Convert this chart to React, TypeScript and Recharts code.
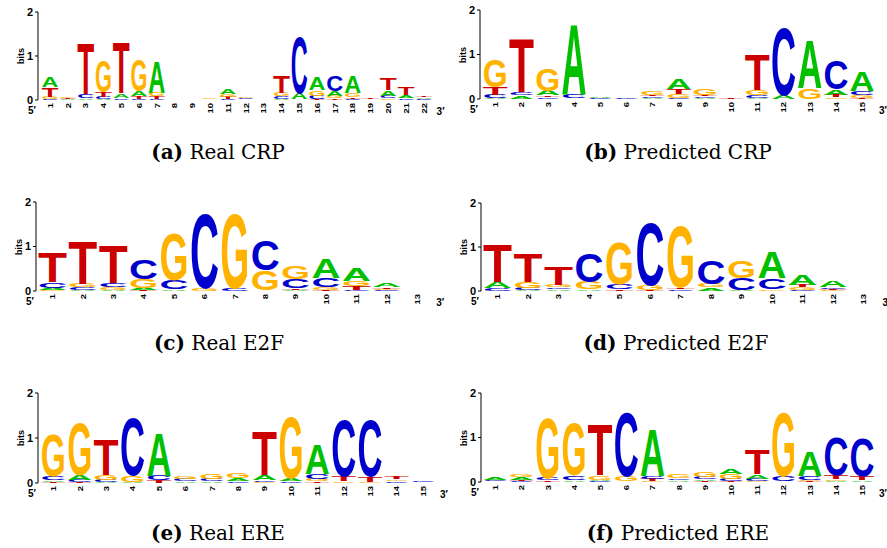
import { Bar, BarChart, XAxis, YAxis } from "recharts";

const crpRealA = [0.25, 0.02, 0.04, 0.02, 0.1, 0.12, 0.71, 0, 0, 0, 0.11, 0.01, 0, 0.02, 0.15, 0.3, 0.11, 0.39, 0.01, 0.13, 0.06, 0.03];
const crpRealC = [0.02, 0.01, 0.09, 0.05, 0.04, 0.03, 0.03, 0, 0, 0.01, 0.02, 0.02, 0, 0.06, 1.3, 0.08, 0.35, 0.03, 0.01, 0.05, 0.04, 0.02];
const crpRealG = [0.05, 0.03, 0.01, 0.71, 0.01, 0.72, 0.08, 0, 0, 0.03, 0.07, 0.03, 0, 0.09, 0.01, 0.13, 0.06, 0.08, 0.01, 0.04, 0.01, 0.01];
const crpRealT = [0.22, 0.02, 1.17, 0.12, 1.17, 0.05, 0.05, 0, 0, 0.01, 0.05, 0.01, 0, 0.4, 0.01, 0.02, 0.04, 0.04, 0.02, 0.27, 0.19, 0.03];

const crpPredA = [0.02, 0.07, 0.11, 1.6, 0.03, 0, 0.02, 0.23, 0.03, 0, 0.02, 0.1, 1.09, 0.13, 0.44];
const crpPredC = [0.08, 0.07, 0.04, 0.08, 0.02, 0.02, 0.04, 0.03, 0.03, 0, 0.06, 1.56, 0.01, 0.64, 0.08];
const crpPredG = [0.62, 0.01, 0.5, 0.01, 0, 0, 0.09, 0.09, 0.15, 0.01, 0.13, 0, 0.23, 0.04, 0.06];
const crpPredT = [0.17, 1.22, 0.04, 0.01, 0, 0, 0.04, 0.11, 0.04, 0.02, 0.8, 0, 0, 0.05, 0.03];

const e2fRealA = [0.05, 0.03, 0.02, 0.05, 0.03, 0.01, 0, 0.01, 0.03, 0.43, 0.29, 0.09, 0];
const e2fRealC = [0.13, 0.05, 0.09, 0.45, 0.2, 1.71, 0.05, 0.68, 0.21, 0.21, 0.03, 0.02, 0];
const e2fRealG = [0.02, 0.08, 0.06, 0.2, 1.07, 0.05, 1.7, 0.45, 0.3, 0.06, 0.11, 0.03, 0];
const e2fRealT = [0.69, 0.99, 0.85, 0.02, 0.01, 0, 0.01, 0.01, 0.03, 0.02, 0.09, 0.03, 0];

const e2fPredA = [0.15, 0.02, 0.04, 0.03, 0.01, 0, 0.01, 0.07, 0.02, 0.6, 0.24, 0.15, 0];
const e2fPredC = [0.05, 0.05, 0.04, 0.65, 0.13, 1.44, 0.04, 0.55, 0.27, 0.25, 0.02, 0.04, 0];
const e2fPredG = [0.01, 0.14, 0.05, 0.17, 0.96, 0.11, 1.43, 0.09, 0.39, 0.03, 0.06, 0.02, 0];
const e2fPredT = [0.86, 0.65, 0.41, 0.01, 0.03, 0.02, 0.04, 0.01, 0.01, 0.01, 0.06, 0.02, 0];

const ereRealA = [0.04, 0.11, 0.02, 0.02, 0.98, 0.03, 0.04, 0.06, 0.12, 0.06, 0.69, 0.01, 0.01, 0.01, 0.01];
const ereRealC = [0.08, 0.05, 0.05, 1.29, 0.1, 0.05, 0.05, 0.04, 0.04, 0.04, 0.1, 1.26, 1.28, 0.03, 0.03];
const ereRealG = [0.94, 1.17, 0.1, 0.15, 0.01, 0.06, 0.11, 0.1, 0.02, 1.38, 0.05, 0.04, 0.02, 0.04, 0.01];
const ereRealT = [0.03, 0.02, 0.8, 0, 0.05, 0.01, 0.01, 0.01, 0.99, 0.01, 0.04, 0.11, 0.12, 0.06, 0.01];

const erePredA = [0.05, 0.06, 0.01, 0.04, 0.03, 0.01, 1.07, 0.03, 0.04, 0.13, 0.1, 0.01, 0.56, 0.02, 0.04];
const erePredC = [0.03, 0.02, 0.05, 0.1, 0.02, 1.47, 0.07, 0.04, 0.05, 0.05, 0.05, 0.11, 0.09, 0.86, 0.86];
const erePredG = [0.01, 0.07, 1.37, 1.18, 0.1, 0.11, 0.02, 0.08, 0.13, 0.11, 0.02, 1.47, 0.03, 0.04, 0.01];
const erePredT = [0.01, 0.03, 0.04, 0.01, 1.15, 0.01, 0.05, 0.01, 0.02, 0.02, 0.57, 0.01, 0.02, 0.09, 0.09];

const LETTERS = ["A", "C", "G", "T"];
const COLORS: Record<string, string> = { A: "#00c000", C: "#0000cc", G: "#ffb300", T: "#cc0000" };
const SANS = "'Liberation Sans', Arial, Helvetica, sans-serif";

function buildRows(cols: number[][]) {
  const rows: any[] = [];
  for (let i = 0; i < cols[0].length; i++) {
    // smallest letter at the bottom of the stack
    const stack = LETTERS.map((l, j) => ({ l, v: cols[j][i] })).sort((a, b) => a.v - b.v);
    const row: any = { pos: String(i + 1) };
    stack.forEach((s, r) => {
      row[`v${r}`] = s.v;
      row[`k${r}`] = s.l;
    });
    rows.push(row);
  }
  return rows;
}

function Glyph(props: any) {
  const { x, y, width, height, payload, rank } = props;
  if (!height || height < 0.4 || !width) return null;
  const letter = payload[`k${rank}`];
  const cap = 71.6; // cap height of the bold sans at 100px
  return (
    <text
      x={0}
      y={0}
      fontFamily={SANS}
      fontWeight={700}
      fontSize={100}
      fill={COLORS[letter]}
      textLength={width}
      lengthAdjust="spacingAndGlyphs"
      transform={`translate(${x}, ${y + height}) scale(1, ${height / cap})`}
    >
      {letter}
    </text>
  );
}

function PosTick({ x, y, payload }: any) {
  return (
    <text
      x={0}
      y={0}
      transform={`translate(${x + 3}, ${y}) rotate(-90) scale(1, 0.8)`}
      textAnchor="end"
      fontSize={9.5}
      fontWeight={700}
      fontFamily={SANS}
      fill="#000"
    >
      {payload.value}
    </text>
  );
}

const panels = [
  { cols: [crpRealA, crpRealC, crpRealG, crpRealT], axisX: 38, yTop: 12, y0: 100, gap: 3, step: 17.8, tag: "(a)", name: "Real CRP", cx: 218, cy: 152 },
  { cols: [crpPredA, crpPredC, crpPredG, crpPredT], axisX: 480, yTop: 10, y0: 99, gap: 2, step: 26.2, tag: "(b)", name: "Predicted CRP", cx: 678, cy: 152 },
  { cols: [e2fRealA, e2fRealC, e2fRealG, e2fRealT], axisX: 36, yTop: 202, y0: 291, gap: 1, step: 30.4, tag: "(c)", name: "Real E2F", cx: 219, cy: 343 },
  { cols: [e2fPredA, e2fPredC, e2fPredG, e2fPredT], axisX: 481, yTop: 203, y0: 291, gap: 1, step: 30.5, tag: "(d)", name: "Predicted E2F", cx: 676, cy: 343 },
  { cols: [ereRealA, ereRealC, ereRealG, ereRealT], axisX: 38, yTop: 393, y0: 483, gap: 2, step: 26.4, tag: "(e)", name: "Real ERE", cx: 218, cy: 533 },
  { cols: [erePredA, erePredC, erePredG, erePredT], axisX: 481, yTop: 393, y0: 482, gap: 1, step: 26.2, tag: "(f)", name: "Predicted ERE", cx: 678, cy: 533 },
];

function LogoPanel({ p }: { p: (typeof panels)[number] }) {
  const rows = buildRows(p.cols);
  const plotW = p.gap + rows.length * p.step;
  const plotH = p.y0 - p.yTop;
  const width = 40 + plotW + 20;
  const height = 10 + plotH + 22 + 6;
  const plotRight = p.axisX + plotW;
  return (
    <>
      <div style={{ position: "absolute", left: p.axisX - 40, top: p.yTop - 10 }}>
        <BarChart
          width={width}
          height={height}
          data={rows}
          margin={{ top: 10, right: 20, bottom: 6, left: 0 }}
          barCategoryGap="3%"
        >
          <XAxis
            dataKey="pos"
            axisLine={false}
            tickLine={false}
            tickSize={0}
            tickMargin={3}
            interval={0}
            height={22}
            padding={{ left: p.gap, right: 0 }}
            tick={<PosTick />}
          />
          <YAxis
            domain={[0, 2]}
            ticks={[0, 1, 2]}
            width={40}
            tickSize={3}
            tickMargin={2}
            axisLine={{ stroke: "#000" }}
            tickLine={{ stroke: "#000" }}
            tick={{ fill: "#000", fontSize: 11, fontWeight: 700, fontFamily: SANS }}
          />
          {[0, 1, 2, 3].map((r) => (
            <Bar
              key={r}
              dataKey={`v${r}`}
              stackId="s"
              isAnimationActive={false}
              shape={(props: any) => <Glyph {...props} rank={r} />}
            />
          ))}
        </BarChart>
      </div>
      <div
        style={{
          position: "absolute",
          left: p.axisX - 17,
          top: (p.yTop + p.y0) / 2,
          transform: "translate(-50%, -50%) rotate(-90deg)",
          fontFamily: SANS,
          fontWeight: 700,
          fontSize: 9,
          lineHeight: "10px",
        }}
      >
        bits
      </div>
      <div style={{ position: "absolute", left: p.axisX - 10, top: p.y0 + 5, fontFamily: SANS, fontWeight: 700, fontSize: 10 }}>
        5′
      </div>
      <div style={{ position: "absolute", left: plotRight + 4, top: p.y0 + 6, fontFamily: SANS, fontWeight: 700, fontSize: 10 }}>
        3′
      </div>
      <div
        style={{
          position: "absolute",
          left: p.cx,
          top: p.cy,
          transform: "translate(-50%, -50%)",
          whiteSpace: "nowrap",
          fontFamily: "'DejaVu Serif', serif",
          fontSize: 20,
          lineHeight: "24px",
        }}
      >
        <b>{p.tag}</b> {p.name}
      </div>
    </>
  );
}

export default function App() {
  return (
    <div style={{ position: "absolute", left: 0, top: 0, width: 887, height: 548, background: "#fff" }}>
      {panels.map((p) => (
        <LogoPanel key={p.tag} p={p} />
      ))}
    </div>
  );
}
